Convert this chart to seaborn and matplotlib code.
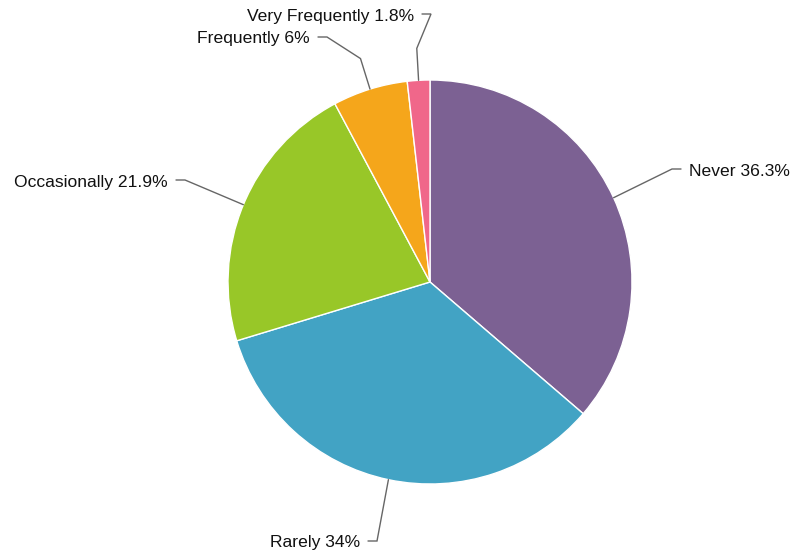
import numpy as np
import matplotlib
matplotlib.use("Agg")
import matplotlib.pyplot as plt
import seaborn as sns

# Survey answer shares (percent), clockwise from 12 o'clock
categories = ["Never", "Rarely", "Occasionally", "Frequently", "Very Frequently"]
shares = [36.3, 34.0, 21.9, 6.0, 1.8]
share_labels = ["36.3%", "34%", "21.9%", "6%", "1.8%"]
colors = ["#7C6193", "#42A3C4", "#98C728", "#F5A61B", "#F0678A"]

sns.set_theme(style="white")
plt.rcParams["font.family"] = ["Liberation Sans", "DejaVu Sans"]

W, H = 796, 558
fig = plt.figure(figsize=(W / 100, H / 100), dpi=100)
ax = fig.add_axes([0, 0, 1, 1])

cx, cy, R = 430, H - 282, 202
wedges, _ = ax.pie(
    shares, colors=colors, startangle=90, counterclock=False,
    center=(cx, cy), radius=R, frame=True,
    wedgeprops=dict(edgecolor="white", linewidth=1.0),
)
ax.set_xlim(0, W)
ax.set_ylim(0, H)
ax.set_aspect("equal")
ax.axis("off")

# Connector layout: elbow point (px, from top), label side, and whether the
# label was pushed off its slice's ray (then the connector breaks near the rim)
elbows = [(672, 169), (377, 541), (185, 180), (327, 37), (431, 14)]
sides = [1, -1, -1, -1, -1]
shifted = [False, False, False, True, True]

for w, cat, lab, (ex, ey), side, sh in zip(wedges, categories, share_labels,
                                            elbows, sides, shifted):
    mid = np.deg2rad((w.theta1 + w.theta2) / 2)
    pts = [(cx + R * np.cos(mid), cy + R * np.sin(mid))]
    if sh:
        pts.append((cx + 234 * np.cos(mid), cy + 234 * np.sin(mid)))
    ey_d = H - ey
    pts.append((ex, ey_d))
    pts.append((ex + side * 9, ey_d))
    xs, ys = zip(*pts)
    ax.plot(xs, ys, color="#666666", linewidth=1.0, solid_joinstyle="miter")
    ax.text(ex + side * 17, ey_d - 2, f"{cat} {lab}",
            ha="left" if side > 0 else "right", va="center",
            fontsize=12.6, color="#111111")

fig.savefig("out.png", dpi=100, facecolor="white")
